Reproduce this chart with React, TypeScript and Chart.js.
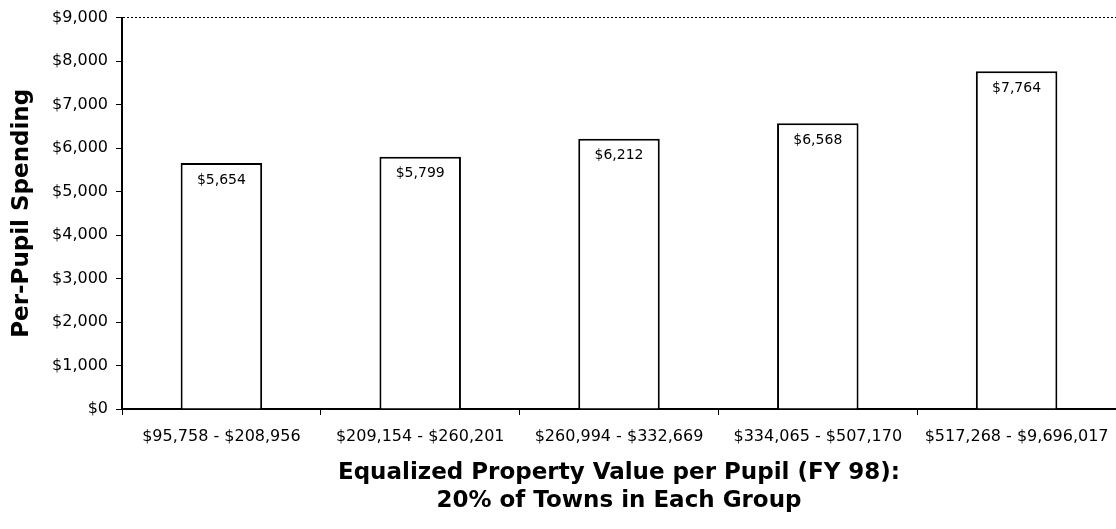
import React, { useEffect, useRef } from "react";
import { Chart, registerables } from "chart.js";

Chart.register(...registerables);

const categories = [
  "$95,758 - $208,956",
  "$209,154 - $260,201",
  "$260,994 - $332,669",
  "$334,065 - $507,170",
  "$517,268 - $9,696,017",
];
const spending = [5654, 5799, 6212, 6568, 7764];
const yTickMax = 9000;
const yTickStep = 1000;
const xTitle = ["Equalized Property Value per Pupil (FY 98):", "20% of Towns in Each Group"];
const yTitle = "Per-Pupil Spending";

const fmt = (v: number) => "$" + Number(v).toLocaleString("en-US");

const valueLabels = {
  id: "valueLabels",
  afterDatasetsDraw(chart: any) {
    const ctx = chart.ctx;
    const meta = chart.getDatasetMeta(0);
    ctx.save();
    ctx.font = "14px 'DejaVu Sans'";
    ctx.fillStyle = "#000";
    ctx.textAlign = "center";
    ctx.textBaseline = "middle";
    meta.data.forEach((el: any, i: number) => {
      ctx.fillText(fmt(spending[i]), el.x, el.y + 17);
    });
    ctx.restore();
  },
};

export default function App() {
  const ref = useRef<HTMLCanvasElement | null>(null);
  useEffect(() => {
    document.body.style.margin = "0";
    if (!ref.current) return;
    Chart.defaults.font.family = "'DejaVu Sans'";
    Chart.defaults.color = "#000";
    const chart = new Chart(ref.current, {
      type: "bar",
      data: {
        labels: categories,
        datasets: [
          {
            data: spending,
            backgroundColor: "#fff",
            borderColor: "#000",
            borderWidth: 2,
            barPercentage: 0.41,
            categoryPercentage: 1,
          },
        ],
      },
      options: {
        animation: false,
        responsive: false,
        maintainAspectRatio: false,
        layout: { padding: { top: 14, right: 0, left: 0, bottom: 0 } },
        plugins: { legend: { display: false }, tooltip: { enabled: false } },
        scales: {
          x: {
            afterFit: (s: any) => {
              s.height = 120;
              s.paddingRight = 0;
              s.paddingLeft = 0;
            },
            grid: {
              display: true,
              drawOnChartArea: false,
              drawTicks: true,
              tickLength: 6,
              tickColor: "#000",
              offset: true,
            },
            border: { display: true, color: "#000", width: 2 },
            ticks: { font: { size: 16 }, color: "#000", padding: 12, maxRotation: 0, autoSkip: false },
            title: {
              display: true,
              text: xTitle,
              color: "#000",
              font: { size: 23, weight: "bold", lineHeight: 28 / 23 },
              padding: { top: 0, bottom: 14 },
            },
          },
          y: {
            min: 0,
            max: yTickMax,
            afterFit: (s: any) => {
              s.width = 122;
            },
            ticks: {
              stepSize: yTickStep,
              callback: (v: any) => fmt(v),
              font: { size: 16 },
              color: "#000",
              padding: 8,
            },
            grid: {
              color: (c: any) => (c.tick && c.tick.value === yTickMax ? "#000" : "rgba(0,0,0,0)"),
              lineWidth: 1,
              drawTicks: true,
              tickLength: 6,
              tickColor: "#000",
              tickBorderDash: [],
            },
            border: { display: true, color: "#000", width: 2, dash: [2, 2] },
            title: {
              display: true,
              text: yTitle,
              color: "#000",
              font: { size: 23, weight: "bold" },
              padding: { top: 8, bottom: 0 },
            },
          },
        },
      },
      plugins: [valueLabels],
    });
    return () => chart.destroy();
  }, []);
  return (
    <div style={{ width: 1116, height: 529 }}>
      <canvas ref={ref} width={1116} height={529} style={{ display: "block" }} />
    </div>
  );
}
